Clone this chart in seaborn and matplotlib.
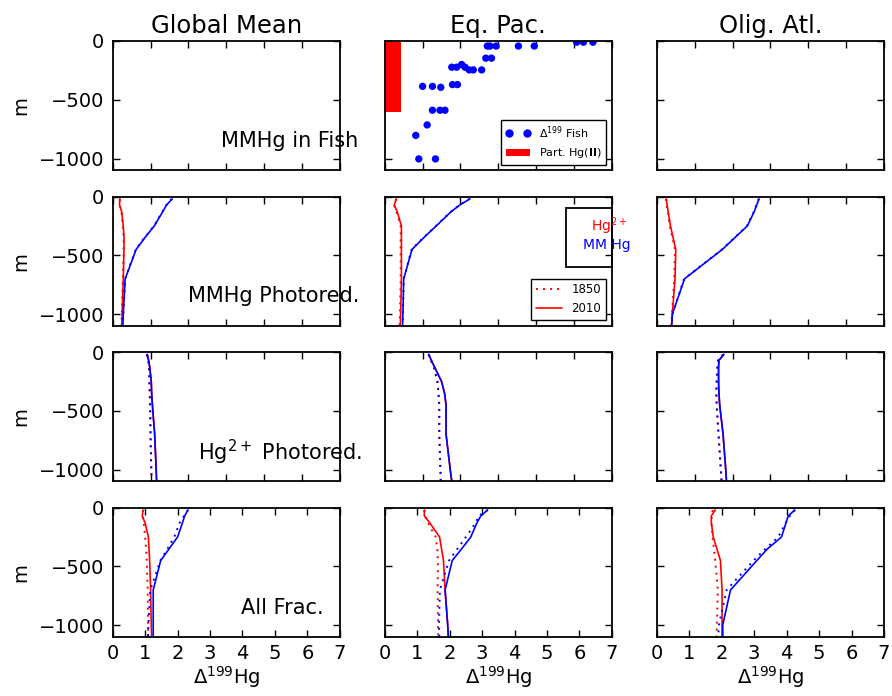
import matplotlib
matplotlib.use("Agg")
import matplotlib.pyplot as plt
from matplotlib.lines import Line2D
from matplotlib.patches import Patch, Rectangle
import seaborn as sns

# ---------------- data ----------------
regions = ["Global Mean", "Eq. Pac.", "Olig. Atl."]
row_labels = ["MMHg in Fish", "MMHg Photored.", r"Hg$^{2+}$ Photored.", "All Frac."]
row_label_x = [2.86, 2.0, 2.25, 3.95]
row_label_y = -850

depth = [-20, -70, -130, -250, -350, -450, -700, -1000, -1100]

# MMHg in fish, Eq. Pac.
fish_d199 = [2.71, 2.78, 2.94, 3.53, 3.95, 5.07, 5.25, 5.50, 2.67, 2.82,
             1.77, 1.90, 2.03, 2.12, 2.23, 2.34, 2.56, 1.00, 1.26, 1.48,
             1.79, 1.92, 1.26, 1.46, 1.59, 1.12, 0.82, 0.90, 1.34]
fish_depth = [-43, -43, -43, -43, -43, -10, -10, -10, -146, -146,
              -223, -223, -200, -223, -246, -246, -246, -386, -386, -394,
              -371, -371, -589, -589, -589, -714, -803, -1003, -1003]
part_hg_d199 = 0.42
part_hg_top = -10
part_hg_bottom = -605

# MMHg photoreduction scenario
mp_gm_hg_1850 = [0.19, 0.18, 0.23, 0.27, 0.29, 0.29, 0.27, 0.24, 0.23]
mp_gm_hg_2010 = [0.19, 0.18, 0.24, 0.28, 0.30, 0.30, 0.28, 0.25, 0.24]
mp_gm_mm_1850 = [1.56, 1.42, 1.31, 1.09, 0.84, 0.61, 0.33, 0.28, 0.27]
mp_gm_mm_2010 = [1.57, 1.43, 1.32, 1.10, 0.85, 0.62, 0.33, 0.28, 0.27]
mp_ep_hg_1850 = [0.30, 0.24, 0.31, 0.42, 0.42, 0.42, 0.42, 0.40, 0.39]
mp_ep_hg_2010 = [0.31, 0.25, 0.33, 0.44, 0.44, 0.44, 0.44, 0.42, 0.41]
mp_ep_mm_1850 = [2.24, 1.98, 1.74, 1.35, 1.02, 0.71, 0.50, 0.48, 0.47]
mp_ep_mm_2010 = [2.25, 1.99, 1.75, 1.36, 1.03, 0.72, 0.50, 0.48, 0.47]
mp_oa_hg_1850 = [0.24, 0.26, 0.29, 0.34, 0.41, 0.48, 0.46, 0.40, 0.38]
mp_oa_hg_2010 = [0.25, 0.27, 0.30, 0.36, 0.43, 0.50, 0.48, 0.41, 0.39]
mp_oa_mm_1850 = [2.69, 2.63, 2.56, 2.38, 2.05, 1.72, 0.72, 0.41, 0.39]
mp_oa_mm_2010 = [2.70, 2.64, 2.57, 2.39, 2.06, 1.73, 0.73, 0.41, 0.39]

# Hg2+ photoreduction scenario (both fractions coincide)
hp_gm_1850 = [0.91, 0.94, 0.96, 0.97, 0.98, 0.99, 1.00, 1.02, 1.03]
hp_gm_2010 = [0.91, 0.95, 0.98, 1.02, 1.03, 1.05, 1.11, 1.15, 1.16]
hp_ep_1850 = [1.16, 1.22, 1.30, 1.39, 1.42, 1.44, 1.44, 1.47, 1.48]
hp_ep_2010 = [1.16, 1.23, 1.32, 1.50, 1.58, 1.62, 1.62, 1.73, 1.77]
hp_oa_1850 = [1.75, 1.62, 1.60, 1.58, 1.57, 1.58, 1.63, 1.69, 1.71]
hp_oa_2010 = [1.77, 1.64, 1.63, 1.63, 1.64, 1.66, 1.75, 1.82, 1.84]

# All fractionation processes
af_gm_hg_1850 = [0.94, 0.92, 0.96, 1.00, 1.03, 1.05, 1.08, 1.09, 1.09]
af_gm_hg_2010 = [0.94, 0.91, 1.00, 1.10, 1.12, 1.14, 1.17, 1.19, 1.20]
af_gm_mm_1850 = [2.32, 2.20, 2.06, 1.90, 1.69, 1.47, 1.16, 1.10, 1.09]
af_gm_mm_2010 = [2.32, 2.22, 2.15, 2.00, 1.74, 1.48, 1.25, 1.25, 1.25]
af_ep_hg_1850 = [1.22, 1.24, 1.33, 1.57, 1.62, 1.64, 1.63, 1.64, 1.65]
af_ep_hg_2010 = [1.22, 1.22, 1.39, 1.69, 1.75, 1.81, 1.86, 1.94, 1.96]
af_ep_mm_1850 = [3.17, 2.90, 2.80, 2.50, 2.24, 1.98, 1.70, 1.67, 1.68]
af_ep_mm_2010 = [3.17, 2.96, 2.84, 2.65, 2.37, 2.08, 1.86, 1.94, 1.96]
af_oa_hg_1850 = [1.72, 1.69, 1.68, 1.72, 1.76, 1.80, 1.88, 1.85, 1.84]
af_oa_hg_2010 = [1.80, 1.68, 1.68, 1.74, 1.85, 1.96, 2.01, 2.01, 2.01]
af_oa_mm_1850 = [4.25, 4.10, 3.97, 3.74, 3.35, 2.98, 2.15, 1.91, 1.89]
af_oa_mm_2010 = [4.25, 4.05, 3.98, 3.84, 3.41, 3.08, 2.27, 2.03, 2.03]

# per-panel series: (hg2+ 1850, hg2+ 2010, MMHg 1850, MMHg 2010)
profiles = {
    (1, 0): (mp_gm_hg_1850, mp_gm_hg_2010, mp_gm_mm_1850, mp_gm_mm_2010),
    (1, 1): (mp_ep_hg_1850, mp_ep_hg_2010, mp_ep_mm_1850, mp_ep_mm_2010),
    (1, 2): (mp_oa_hg_1850, mp_oa_hg_2010, mp_oa_mm_1850, mp_oa_mm_2010),
    (2, 0): (hp_gm_1850, hp_gm_2010, hp_gm_1850, hp_gm_2010),
    (2, 1): (hp_ep_1850, hp_ep_2010, hp_ep_1850, hp_ep_2010),
    (2, 2): (hp_oa_1850, hp_oa_2010, hp_oa_1850, hp_oa_2010),
    (3, 0): (af_gm_hg_1850, af_gm_hg_2010, af_gm_mm_1850, af_gm_mm_2010),
    (3, 1): (af_ep_hg_1850, af_ep_hg_2010, af_ep_mm_1850, af_ep_mm_2010),
    (3, 2): (af_oa_hg_1850, af_oa_hg_2010, af_oa_mm_1850, af_oa_mm_2010),
}

# ---------------- style ----------------
sns.set_theme(style="white")
plt.rcParams.update({
    "font.family": ["DejaVu Sans"],
    "mathtext.fontset": "dejavusans",
    "xtick.direction": "in", "ytick.direction": "in",
    "xtick.top": True, "ytick.right": True,
    "xtick.bottom": True, "ytick.left": True,
    "xtick.major.size": 5, "ytick.major.size": 5,
    "xtick.major.width": 1.0, "ytick.major.width": 1.0,
    "xtick.major.pad": 5, "ytick.major.pad": 6,
    "axes.edgecolor": "black", "axes.linewidth": 1.3,
    "xtick.color": "black", "ytick.color": "black",
    "xtick.labelsize": 14, "ytick.labelsize": 14,
    "axes.labelsize": 14, "axes.titlesize": 17.5,
    "text.color": "black", "axes.labelcolor": "black",
    "legend.fancybox": False, "legend.edgecolor": "black",
    "legend.framealpha": 1.0,
})

RED, BLUE = "#ff0000", "#0000ff"
DOT = (0, (1, 2.6))
LW = 1.2

fig, axes = plt.subplots(4, 3, figsize=(8.92, 6.96), dpi=100, sharey=True)
fig.subplots_adjust(left=0.1263, right=0.991, top=0.9411, bottom=0.0848,
                    wspace=0.198, hspace=0.203)

for r in range(4):
    for c in range(3):
        ax = axes[r, c]
        if (r, c) in profiles:
            hg18, hg20, mm18, mm20 = profiles[(r, c)]
            sns.lineplot(x=hg18, y=depth, sort=False, estimator=None, color=RED,
                         linestyle=DOT, lw=1.4, ax=ax)
            sns.lineplot(x=hg20, y=depth, sort=False, estimator=None, color=RED,
                         lw=LW, ax=ax)
            sns.lineplot(x=mm18, y=depth, sort=False, estimator=None, color=BLUE,
                         linestyle=DOT, lw=1.4, ax=ax)
            sns.lineplot(x=mm20, y=depth, sort=False, estimator=None, color=BLUE,
                         lw=LW, ax=ax)
        ax.set_ylim(-1100, 0)
        ax.set_yticks([-1000, -500, 0])
        if r < 3:
            ax.set_xlim(0, 6)
            ax.set_xticks(range(0, 7))
            ax.tick_params(labelbottom=False)
        else:
            ax.set_xlim(0, 7)
            ax.set_xticks(range(0, 8))
            ax.set_xlabel(r"$\Delta^{199}$Hg", labelpad=1)
        if c == 0:
            ax.set_ylabel("m", labelpad=6)
            ax.text(row_label_x[r], row_label_y, row_labels[r], fontsize=15,
                    ha="left", va="center", clip_on=False)
        if r == 0:
            ax.set_title(regions[c], pad=6)

# fish panel
axf = axes[0, 1]
axf.fill_betweenx([part_hg_top, part_hg_bottom], 0, part_hg_d199, color=RED, lw=0)
sns.scatterplot(x=fish_d199, y=fish_depth, color=BLUE, s=28, edgecolor="none",
                ax=axf, legend=False)
fish_handles = [Line2D([], [], ls="none", marker="o", color=BLUE, markersize=5,
                       markeredgecolor=BLUE),
                Patch(facecolor=RED, edgecolor="none")]
axf.legend(fish_handles, [r"$\Delta^{199}$ Fish", r"Part. Hg($\mathbf{II}$)"],
           loc="lower right", numpoints=2, fontsize=8, borderaxespad=0.5,
           handlelength=2.2)

# year legend + species key
axe = axes[1, 1]
yr_handles = [Line2D([], [], color=RED, ls=DOT, lw=1.4),
              Line2D([], [], color=RED, lw=LW)]
axe.legend(yr_handles, ["1850", "2010"], loc="lower right", fontsize=8.5,
           borderaxespad=0.5, handlelength=2.2)
axe.add_patch(Rectangle((0.797, 0.457), 0.203, 0.458, transform=axe.transAxes,
                        fill=False, edgecolor="black", lw=1.3, clip_on=False,
                        zorder=5))
axe.text(0.989, 0.767, r"Hg$^{2+}$", color=RED, fontsize=10, ha="center",
         va="center", transform=axe.transAxes, clip_on=False, zorder=6)
axe.text(0.977, 0.622, "MM Hg", color=BLUE, fontsize=10, ha="center",
         va="center", transform=axe.transAxes, clip_on=False, zorder=6)

fig.savefig("out.png", dpi=100)
